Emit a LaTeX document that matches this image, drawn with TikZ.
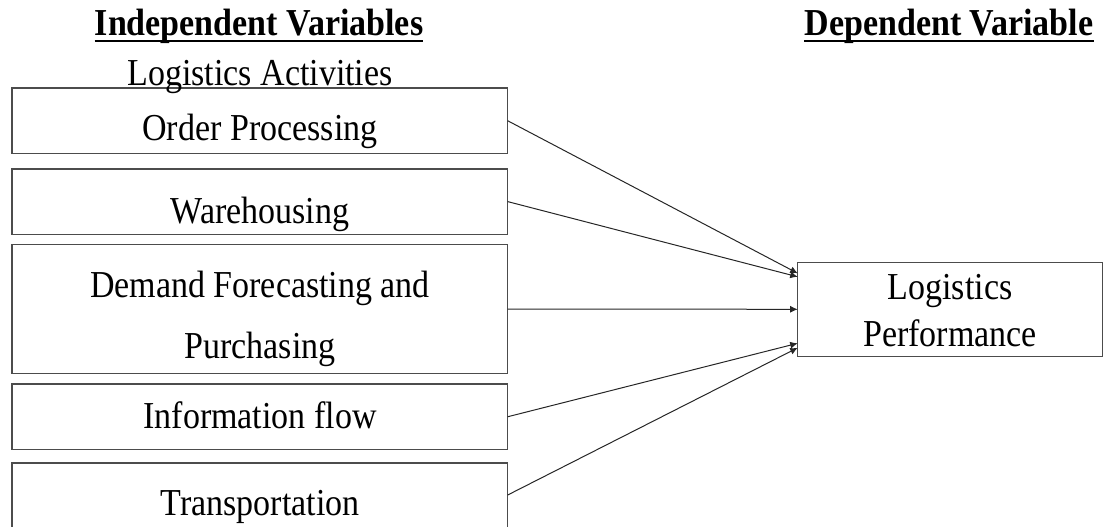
\documentclass[tikz,border=0pt]{standalone}
\usepackage{graphicx}
\usepackage{fontspec}
\setmainfont{Liberation Serif}
\usetikzlibrary{arrows.meta}
\newcommand\vstretch[1]{\scalebox{1}[1.12]{#1}}
\begin{document}
\begin{tikzpicture}[x=1pt,y=-1pt,
  box/.style={draw=black!70, line width=1.1pt, minimum width=495.7pt, inner sep=0pt, outer sep=0pt},
  lbl/.style={anchor=base, inner sep=0pt, font=\fontsize{34}{40}\selectfont},
  ttl/.style={anchor=base, inner sep=0pt, font=\fontsize{34}{40}\selectfont\bfseries},
  uline/.style={draw=black, line width=2pt},
  conn/.style={draw=black!85, line width=1pt, -{Latex[length=7.5pt,width=7pt]}}]
\useasboundingbox (0,0) rectangle (1103,527);

% titles
\node[ttl] (ti) at (259,36) {\vstretch{Independent Variables}};
\node[ttl] (td) at (949,36) {\vstretch{Dependent Variable}};
\draw[uline] ([yshift=-5.5pt]ti.base west) -- ([yshift=-5.5pt]ti.base east);
\draw[uline] ([yshift=-5.5pt]td.base west) -- ([yshift=-5.5pt]td.base east);

% boxes
\node[box, minimum height=65.5pt] (op) at (259.85,120.75) {};
\node[box, minimum height=65.3pt] (wh) at (259.85,201.6) {};
\node[box, minimum height=128.6pt] (df) at (259.85,309) {};
\node[box, minimum height=65.5pt] (inf) at (259.85,416.75) {};
\node[box, minimum height=66pt] (tr) at (259.85,496) {};
\node[box, minimum width=304.8pt, minimum height=94pt] (lp) at (950.1,309.3) {};

% texts
\node[lbl] (la) at (260,85) {\vstretch{Logistics Activities}};
\node[lbl] (opt) at (260,140) {\vstretch{Order Processing}};
\node[lbl] (wht) at (260,223) {\vstretch{Warehousing}};
\node[lbl] (dft1) at (260,297) {\vstretch{Demand Forecasting and}};
\node[lbl] (dft2) at (260,358) {\vstretch{Purchasing}};
\node[lbl] (inft) at (260,428.5) {\vstretch{Information flow}};
\node[lbl] (trt) at (260,515) {\vstretch{Transportation}};
\node[lbl] (lpt1) at (950,299) {\vstretch{Logistics}};
\node[lbl] (lpt2) at (950,346) {\vstretch{Performance}};

% connectors
\draw[conn] (op.east) -- ([yshift=36pt]lp.west);
\draw[conn] (wh.east) -- ([yshift=32.5pt]lp.west);
\draw[conn] (df.east) -- (lp.west);
\draw[conn] (inf.east) -- ([yshift=-34pt]lp.west);
\draw[conn] ([yshift=1pt]tr.east) -- ([yshift=-38.5pt]lp.west);
\end{tikzpicture}
\end{document}
